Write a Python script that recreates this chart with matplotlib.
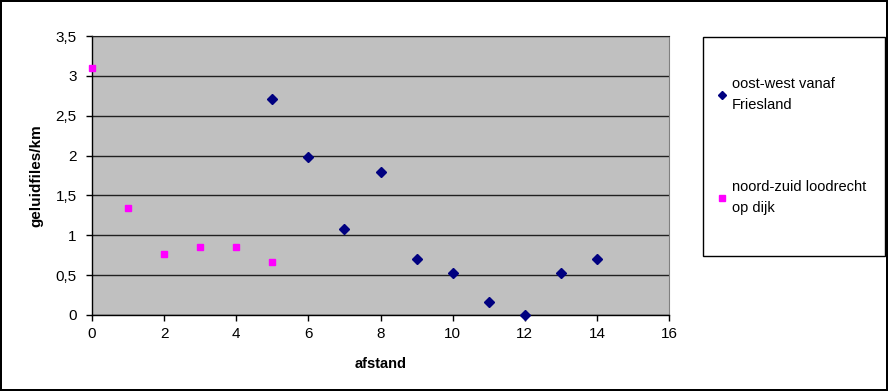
import numpy as np
from matplotlib import pyplot as plt
from matplotlib.patches import Rectangle
from matplotlib.ticker import FuncFormatter

plt.rcParams['font.family'] = ['Liberation Sans', 'DejaVu Sans']

# oost-west vanaf Friesland
ow_x = [5, 6, 7, 8, 9, 10, 11, 12, 13, 14]
ow_y = [2.71, 1.98, 1.08, 1.80, 0.70, 0.53, 0.16, 0.0, 0.53, 0.70]

# noord-zuid loodrecht op dijk
nz_x = [0, 1, 2, 3, 4, 5]
nz_y = [3.10, 1.34, 0.77, 0.85, 0.85, 0.66]

labels = ['oost-west vanaf\nFriesland', 'noord-zuid loodrecht\nop dijk']

fig = plt.figure(figsize=(8.88, 3.91), dpi=100)
fig.patch.set_edgecolor('black')
fig.patch.set_linewidth(1.5)

ax = fig.add_axes([92 / 888, 76 / 391, 577 / 888, 279 / 391])
ax.set_facecolor('#C0C0C0')

ax.set_xlim(0, 16)
ax.set_ylim(0, 3.5)
ax.set_xticks(np.arange(0, 17, 2))
ax.set_yticks(np.arange(0, 3.51, 0.5))
ax.yaxis.set_major_formatter(FuncFormatter(lambda v, p: f"{v:g}".replace('.', ',')))
ax.grid(axis='y', color='#202020', linewidth=1)
ax.set_axisbelow(True)

for s in ['left', 'bottom']:
    ax.spines[s].set_color('black')
    ax.spines[s].set_linewidth(1)
ax.spines['right'].set_color('#808080')
ax.spines['top'].set_color('#202020')
ax.tick_params(direction='out', length=4, width=1, labelsize=11)
ax.tick_params(axis='y', pad=7)
ax.tick_params(axis='x', pad=5)

l1, = ax.plot(ow_x, ow_y, linestyle='none', marker='D', markersize=5,
              color='#000080', clip_on=False, zorder=3)
l2, = ax.plot(nz_x, nz_y, linestyle='none', marker='s', markersize=5,
              color='#FF00FF', clip_on=False, zorder=3)

ax.set_xlabel('afstand', fontsize=10.5, fontweight='bold', labelpad=11)
ax.set_ylabel('geluidfiles/km', fontsize=11, fontweight='bold', labelpad=9)

# legend frame
fig.patches.append(Rectangle((703 / 888, 135 / 391), 182 / 888, 219 / 391,
                             transform=fig.transFigure, facecolor='white',
                             edgecolor='black', linewidth=1))
leg = fig.legend([l1, l2], labels, loc='upper left',
                 bbox_to_anchor=(704 / 888, 327 / 391), frameon=False,
                 fontsize=10.5, labelspacing=4.7, handlelength=0.6,
                 handletextpad=0.4, markerscale=0.9)
for t in leg.get_texts():
    t.set_linespacing(1.6)

fig.savefig('out.png', dpi=100)
